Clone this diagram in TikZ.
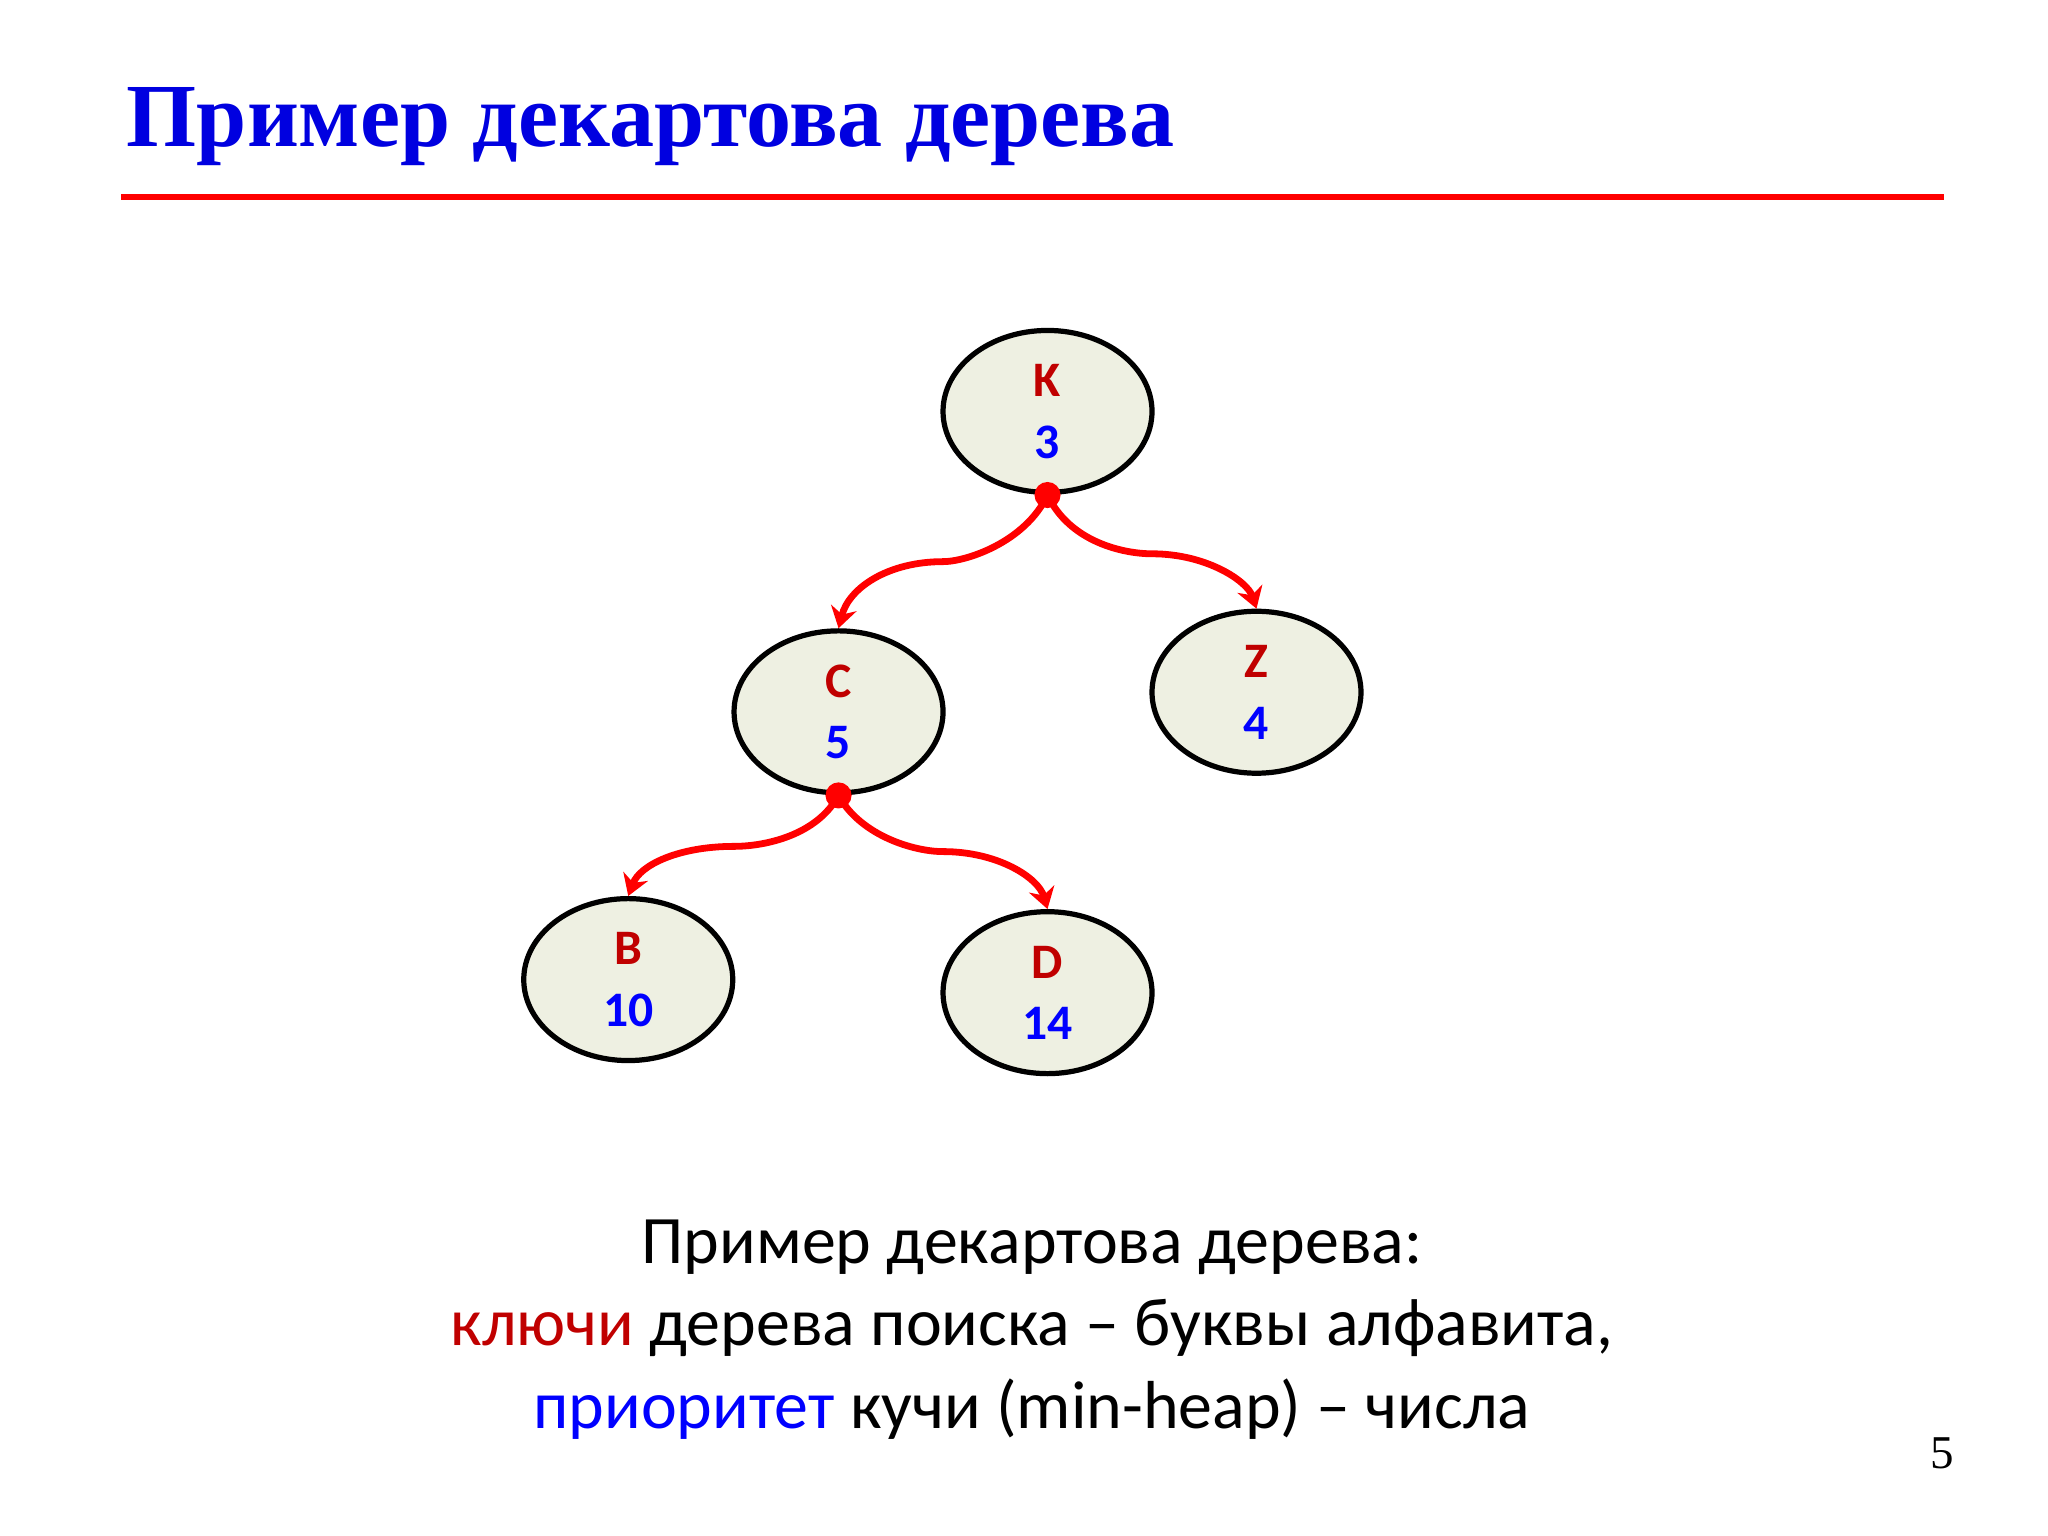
\documentclass[tikz,border=0pt]{standalone}
\usepackage{fontspec}
\setmainfont{Carlito}
\newfontfamily\seriff{Liberation Serif}
\usetikzlibrary{arrows.meta,shapes.geometric}
\definecolor{keyred}{HTML}{C00000}
\definecolor{prblue}{HTML}{0000FF}
\definecolor{nodefill}{HTML}{EEF0E2}
\begin{document}
\begin{tikzpicture}[x=0.5pt,y=-0.5pt,
  tnode/.style={draw=black,line width=2pt,fill=nodefill,ellipse,minimum width=80pt,minimum height=62pt,inner sep=0pt,align=center,font=\fontsize{19}{23.5}\selectfont\bfseries},
  edge/.style={draw=red,line width=2.6pt,-{Stealth[length=8pt,width=10pt]}},
  dot/.style={circle,fill=red,inner sep=0pt,minimum size=10pt}]
\fill[white] (0,0) rectangle (1568,1176);
\node[anchor=base west,text=blue!88!black,font=\seriff\fontsize{34.5}{40}\selectfont\bfseries] (title) at (90,112) {Пример декартова дерева};
\draw[red,line width=2.5pt] (93,151) -- (1488,151);
\node[tnode] (K) at (802,315) {\textcolor{keyred}{K}\\\textcolor{prblue}{3}};
\node[tnode] (C) at (642,545) {\textcolor{keyred}{C}\\\textcolor{prblue}{5}};
\node[tnode] (Z) at (962,530) {\textcolor{keyred}{Z}\\\textcolor{prblue}{4}};
\node[tnode] (B) at (481,750) {\textcolor{keyred}{B}\\\textcolor{prblue}{10}};
\node[tnode] (D) at (802,760) {\textcolor{keyred}{D}\\\textcolor{prblue}{14}};
\node[dot] (k) at (K.south) {};
\node[dot] (c) at (C.south) {};
\draw[edge] (k.center) .. controls (785,415) and (740,430) .. (722,430) .. controls (680,430) and (650,450) .. (C.north);
\draw[edge] (k.center) .. controls (819,415) and (860,424) .. (882,424) .. controls (924,424) and (955,445) .. (Z.north);
\draw[edge] (c.center) .. controls (625,640) and (585,648) .. (562,648) .. controls (520,648) and (490,662) .. (B.north);
\draw[edge] (c.center) .. controls (659,640) and (700,652) .. (722,652) .. controls (764,652) and (795,672) .. (D.north);
\node[align=center,font=\fontsize{26}{31.5}\selectfont] (cap) at (790,1018) {Пример декартова дерева:\\
\textcolor{keyred}{ключи} дерева поиска -- буквы алфавита,\\
\textcolor{prblue}{приоритет} кучи (min-heap) -- числа};
\node[font=\seriff\fontsize{18}{20}\selectfont] (pg) at (1487,1113) {5};
\end{tikzpicture}
\end{document}
